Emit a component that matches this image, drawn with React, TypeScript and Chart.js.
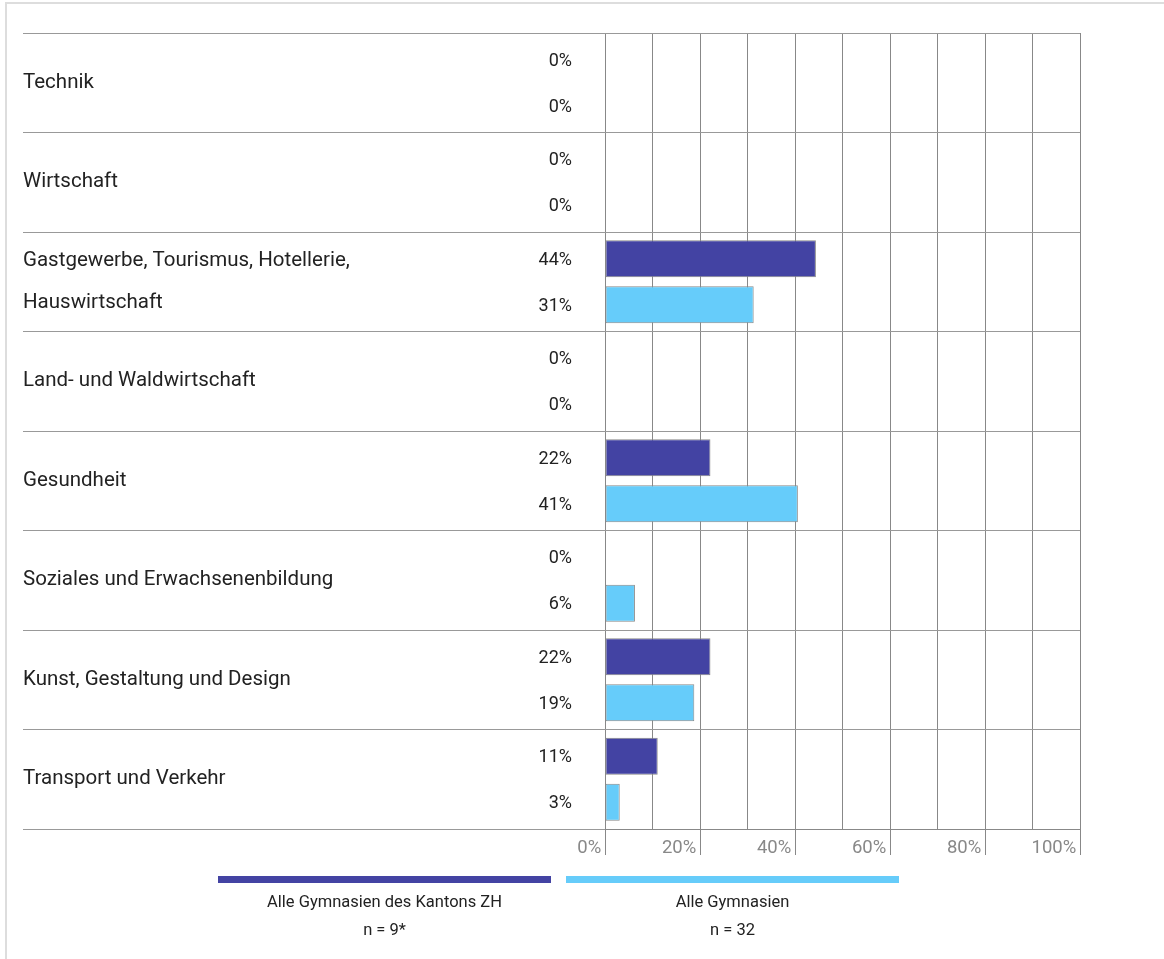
import React, { useEffect, useRef } from 'react';
import { Chart, registerables } from 'chart.js';

Chart.register(...registerables);

const categories: (string | string[])[] = [
  'Technik',
  'Wirtschaft',
  ['Gastgewerbe, Tourismus, Hotellerie,', 'Hauswirtschaft'],
  'Land- und Waldwirtschaft',
  'Gesundheit',
  'Soziales und Erwachsenenbildung',
  'Kunst, Gestaltung und Design',
  'Transport und Verkehr',
];
const zhValues = [0, 0, 44.4, 0, 22.2, 0, 22.2, 11.1];
const allValues = [0, 0, 31.3, 0, 40.6, 6.3, 18.8, 3.1];
const seriesNames = ['Alle Gymnasien des Kantons ZH', 'Alle Gymnasien'];
const seriesN = ['n = 9*', 'n = 32'];
const seriesColors = ['#4343a3', '#66ccfa'];
const xLabelStep = 20;

const FONT = 'Roboto, "DejaVu Sans", sans-serif';

const valueLabels = {
  id: 'valueLabels',
  afterDatasetsDraw(chart: any) {
    const ctx = chart.ctx;
    ctx.save();
    ctx.font = `18px ${FONT}`;
    ctx.fillStyle = '#222';
    ctx.textAlign = 'right';
    ctx.textBaseline = 'middle';
    chart.data.datasets.forEach((ds: any, i: number) => {
      const meta = chart.getDatasetMeta(i);
      meta.data.forEach((bar: any, j: number) => {
        ctx.fillText(Math.round(ds.data[j]) + '%', chart.chartArea.left - 33, bar.y + 1.5);
      });
    });
    ctx.restore();
  },
};

export default function App() {
  const ref = useRef<HTMLCanvasElement | null>(null);

  useEffect(() => {
    if (!ref.current) return;
    const datasets = [zhValues, allValues].map((data, i) => ({
      label: seriesNames[i],
      data,
      backgroundColor: seriesColors[i],
      borderColor: '#888',
      borderWidth: (c: any) => (c.raw === 0 ? 0 : 1),
      borderSkipped: false as any,
      categoryPercentage: 0.925,
      barPercentage: 0.8,
    }));
    const chart = new Chart(ref.current, {
      type: 'bar',
      data: { labels: categories as any, datasets },
      plugins: [valueLabels],
      options: {
        indexAxis: 'y',
        responsive: false,
        animation: false,
        devicePixelRatio: 1,
        layout: { padding: { left: 23, top: 33, right: 84, bottom: 100 } },
        plugins: { legend: { display: false }, tooltip: { enabled: false } },
        scales: {
          x: {
            min: 0,
            max: 100,
            ticks: {
              stepSize: 10,
              autoSkip: false,
              maxRotation: 0,
              align: 'end',
              padding: -18,
              color: '#888',
              font: { size: 18.5, family: FONT },
              callback: (v: any) => (Number(v) % xLabelStep === 0 ? v + '%\u2009' : ''),
            },
            grid: {
              color: '#888',
              tickLength: 26,
              tickColor: (c: any) =>
                c.tick && c.tick.value % xLabelStep === 0 ? '#888' : 'rgba(0,0,0,0)',
            },
            border: { color: '#888' },
            afterFit: (s: any) => {
              s.height = 30;
            },
          },
          y: {
            ticks: {
              crossAlign: 'far',
              autoSkip: false,
              padding: 0,
              color: '#222',
              font: { size: 20.5, family: FONT, lineHeight: 2.05 },
            },
            grid: { color: '#999', tickColor: '#999', tickLength: 582, offset: true },
            border: { display: false },
            afterFit: (s: any) => {
              s.width = 582;
            },
          },
        },
      },
    });
    return () => chart.destroy();
  }, []);

  const legendX = [218, 566];
  return (
    <div style={{ position: 'fixed', left: 0, top: 0, width: 1164, height: 959, background: '#fff', overflow: 'hidden', fontFamily: FONT }}>
      <div style={{ position: 'absolute', left: 5, top: 2, width: 1300, height: 1100, border: '2px solid #ddd' }} />
      <canvas ref={ref} width={1164} height={959} style={{ position: 'absolute', left: 0, top: 0 }} />
      {seriesNames.map((name, i) => (
        <div key={i} style={{ position: 'absolute', left: legendX[i], top: 876, width: 333, textAlign: 'center', color: '#222', fontSize: 16.5 }}>
          <div style={{ height: 7, background: seriesColors[i] }} />
          <div style={{ position: 'absolute', left: 0, width: 333, top: 14, lineHeight: '24px' }}>{name}</div>
          <div style={{ position: 'absolute', left: 0, width: 333, top: 42, lineHeight: '24px' }}>{seriesN[i]}</div>
        </div>
      ))}
    </div>
  );
}
